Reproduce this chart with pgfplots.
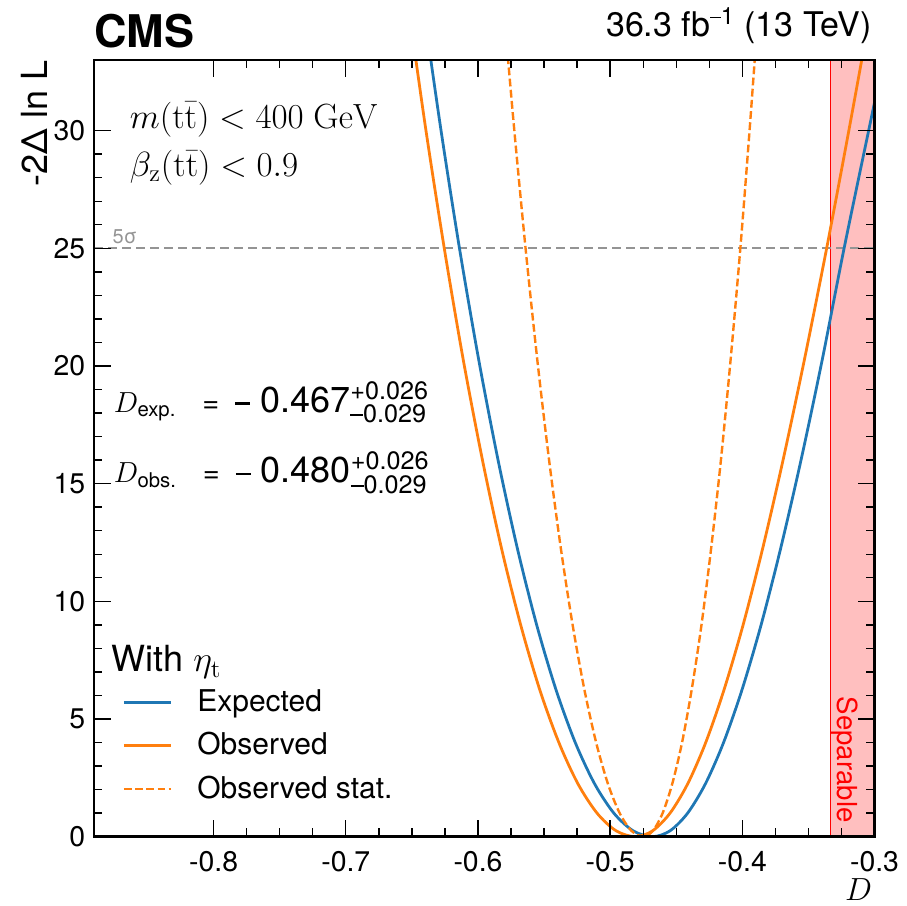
\RequirePackage{fix-cm}
\documentclass[border=0pt]{standalone}
\usepackage{amsmath}
\usepackage[no-math]{fontspec}
\setmainfont{TeX Gyre Heros}
\usepackage{pgfplots}
\pgfplotsset{compat=1.18}
\definecolor{mplblue}{HTML}{1F77B4}
\definecolor{mplorange}{HTML}{FF7F0E}
\newcommand{\mminus}[1]{\rule[0.26em]{#1}{0.075em}}
\begin{document}
\begin{tikzpicture}
\begin{axis}[
  scale only axis, width=390.25pt, height=388.35pt,
  xmin=-0.8905, xmax=-0.3, ymin=0, ymax=33,
  axis line style={line width=1.4pt},
  xtick={-0.8,-0.7,-0.6,-0.5,-0.4,-0.3},
  xticklabels={-0.8,-0.7,-0.6,-0.5,-0.4,-0.3},
  ytick={0,5,10,15,20,25,30},
  yticklabels={0,5,10,15,20,25,30},
  minor x tick num=3, minor y tick num=4,
  tick align=inside, tick pos=both,
  xticklabel pos=lower, yticklabel pos=left,
  major tick length=8.3pt, minor tick length=4.2pt,
  major tick style={line width=0.7pt, black},
  minor tick style={line width=0.7pt, black},
  tick label style={font=\fontsize{14.2}{17}\selectfont, inner sep=0pt},
  xticklabel style={yshift=-7pt},
  yticklabel style={xshift=-4.2pt},
  xlabel={$D$},
  xlabel style={at={(rel axis cs:1,0)}, anchor=north east, inner sep=0pt, yshift=-21pt, xshift=-1pt, font=\fontsize{16}{19}\selectfont},
  axis on top,
  legend cell align=left,
  legend style={at={(axis cs:-0.8689,6.205)}, anchor=north west, draw=none, fill=none,
    inner sep=0pt, outer sep=0pt, row sep=8.15pt, column sep=12.5pt,
    font=\fontsize{15}{18}\selectfont,
    nodes={inner sep=0pt, anchor=base west, text height=10.5pt, text depth=3pt}},
  legend image code/.code={\draw[#1] (0pt,4.7pt) -- (23.5pt,4.7pt);},
]
% Separable band
\addplot[fill=red!25, draw=none, forget plot] coordinates {(-0.3333,0) (-0.29,0) (-0.29,34) (-0.3333,34)} -- cycle;
\addplot[red, line width=0.7pt, forget plot] coordinates {(-0.3333,0) (-0.3333,34)};
% 5 sigma line
\addplot[black!42, line width=1pt, dash pattern=on 4.7pt off 2.3pt, forget plot] coordinates {(-0.8905,25) (-0.3,25)};
% Expected
\addplot[color=mplblue, line width=1.39pt, smooth] coordinates {
(-0.6432,36) (-0.6286,30.25) (-0.6140,25) (-0.5994,20.25) (-0.5848,16) (-0.5702,12.25)
(-0.5556,9) (-0.5410,6.25) (-0.5264,4) (-0.5118,2.25) (-0.4972,1) (-0.4826,0.25)
(-0.4680,0)
(-0.4547,0.25) (-0.4414,1) (-0.4279,2.25) (-0.4142,4) (-0.4002,6.25) (-0.3858,9)
(-0.3710,12.25) (-0.3556,16) (-0.3396,20.25) (-0.3230,25) (-0.3035,30.25) (-0.2820,36)};
\addlegendentry{Expected}
% Observed
\addplot[color=mplorange, line width=1.39pt, smooth] coordinates {
(-0.6544,36) (-0.6400,30.25) (-0.6255,25) (-0.6111,20.25) (-0.5966,16) (-0.5822,12.25)
(-0.5677,9) (-0.5533,6.25) (-0.5388,4) (-0.5244,2.25) (-0.5099,1) (-0.4955,0.25)
(-0.4810,0)
(-0.4679,0.25) (-0.4547,1) (-0.4413,2.25) (-0.4277,4) (-0.4138,6.25) (-0.3994,9)
(-0.3846,12.25) (-0.3692,16) (-0.3531,20.25) (-0.3362,25) (-0.3186,30.25) (-0.3000,36)};
\addlegendentry{Observed}
% Observed stat.
\addplot[color=mplorange, line width=1.2pt, smooth, dash pattern=on 3.9pt off 1.7pt] coordinates {
(-0.5818,36) (-0.5729,30.25) (-0.5640,25) (-0.5551,20.25) (-0.5462,16) (-0.5373,12.25)
(-0.5284,9) (-0.5195,6.25) (-0.5106,4) (-0.5017,2.25) (-0.4928,1) (-0.4839,0.25)
(-0.4750,0)
(-0.4677,0.25) (-0.4603,1) (-0.4530,2.25) (-0.4456,4) (-0.4383,6.25) (-0.4309,9)
(-0.4236,12.25) (-0.4162,16) (-0.4089,20.25) (-0.4015,25) (-0.3942,30.25) (-0.3868,36)};
\addlegendentry{Observed stat.}
% texts
\node[anchor=base west, inner sep=0pt, font=\fontsize{17.5}{21}\selectfont] at (axis cs:-0.8636,30.11) {$m(\mathrm{t\bar{t}}) < 400\ \mathrm{GeV}$};
\node[anchor=base west, inner sep=0pt, font=\fontsize{17.5}{21}\selectfont] at (axis cs:-0.8636,28.04) {$\beta_{\mathrm{z}}(\mathrm{t\bar{t}}) < 0.9$};
\node[anchor=base west, inner sep=0pt] at (axis cs:-0.8757,18.04) {\fontsize{14.5}{17}\selectfont $D_{\text{exp.}}$\hspace{13pt}=\hspace{8pt}\mminus{7.5pt}\hspace{5pt}\fontsize{18}{21}\selectfont 0.467${}^{\text{+0.026}}_{\text{\mminus{0.5em}0.029}}$};
\node[anchor=base west, inner sep=0pt] at (axis cs:-0.8757,15.03) {\fontsize{14.5}{17}\selectfont $D_{\text{obs.}}$\hspace{13pt}=\hspace{8pt}\mminus{7.5pt}\hspace{5pt}\fontsize{18}{21}\selectfont 0.480${}^{\text{+0.026}}_{\text{\mminus{0.5em}0.029}}$};
\node[anchor=base west, inner sep=0pt, font=\fontsize{18}{21}\selectfont] at (axis cs:-0.8775,7.012) {With $\eta_{\mathrm{t}}$};
\node[anchor=base west, inner sep=0pt, text=black!42, font=\fontsize{10}{12}\selectfont] at (axis cs:-0.8767,25.22) {5σ};
\node[rotate=-90, anchor=base, inner sep=0pt, text=red, font=\fontsize{13.8}{16}\selectfont] at (axis cs:-0.3278,3.27) {Separable};
\end{axis}
\node[rotate=90, anchor=south east, inner sep=0pt, font=\fontsize{18}{21}\selectfont] at ([xshift=-23pt]current axis.north west) {-2Δ ln L};
\node[anchor=base west, inner sep=0pt, font=\fontsize{22.5}{27}\selectfont\bfseries] at ([yshift=6pt]current axis.north west) {CMS};
\node[anchor=base east, inner sep=0pt, font=\fontsize{17}{20}\selectfont] at ([xshift=-1.2pt,yshift=11.5pt]current axis.north east) {36.3 fb$^{\text{\mminus{0.45em}1}}$ (13 TeV)};
\path ([shift={(-47pt,-34.65pt)}]current axis.south west) rectangle ([shift={(16.25pt,30pt)}]current axis.north east);
\end{tikzpicture}
\end{document}
